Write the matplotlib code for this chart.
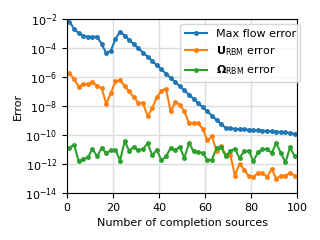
import numpy as np
import matplotlib
matplotlib.use("Agg")
import matplotlib.pyplot as plt

# completion sources (every other one)
n_sources = list(range(1, 100, 2))

# log10 of the errors
max_flow_log = [-2.19, -2.69, -2.98, -3.17, -3.22, -3.24, -3.22, -3.74, -4.36, -4.18,
                -3.38, -2.87, -3.15, -3.45, -3.74, -4.03, -4.32, -4.61, -4.90, -5.19,
                -5.48, -5.77, -6.06, -6.35, -6.64, -6.93, -7.22, -7.51, -7.80, -8.09,
                -8.38, -8.67, -8.96, -9.25, -9.52, -9.55, -9.58, -9.60, -9.62, -9.64,
                -9.66, -9.68, -9.70, -9.72, -9.74, -9.77, -9.80, -9.83, -9.86, -9.92]
u_rbm_log = [-5.74, -6.15, -6.66, -6.50, -6.50, -6.34, -6.61, -6.77, -7.85, -7.11,
             -6.31, -6.24, -6.63, -7.00, -7.40, -7.78, -7.80, -8.72, -8.17, -7.40,
             -6.97, -6.80, -8.37, -7.76, -7.90, -8.38, -9.18, -9.18, -9.18, -9.59,
             -10.37, -10.10, -11.13, -10.79, -11.36, -11.36, -12.80, -11.98, -12.39, -12.85,
             -12.90, -12.62, -12.62, -12.90, -12.34, -13.03, -12.80, -12.80, -12.62, -12.80]
omega_rbm_log = [-10.90, -10.67, -11.82, -11.66, -11.55, -10.97, -11.48, -10.90, -11.25, -11.06,
                 -11.02, -11.77, -10.44, -11.08, -10.83, -11.06, -10.97, -10.56, -11.41, -11.02,
                 -11.75, -11.48, -10.90, -11.02, -10.83, -11.59, -10.56, -11.13, -11.20, -11.25,
                 -11.75, -11.70, -10.90, -10.83, -11.48, -11.08, -10.97, -11.59, -11.13, -11.08,
                 -11.82, -11.20, -10.97, -10.97, -11.25, -10.56, -11.25, -11.89, -10.85, -11.48]

plt.rcParams['font.size'] = 8
fig = plt.figure(figsize=(3.2, 2.4), dpi=100)
ax = fig.add_axes([0.21, 0.196, 0.718, 0.725])

ax.semilogy(n_sources, 10.0 ** np.array(max_flow_log), '.-', color='C0', ms=5, lw=1.5,
            label='Max flow error')
ax.semilogy(n_sources, 10.0 ** np.array(u_rbm_log), '.-', color='C1', ms=5, lw=1.5,
            label=r'$\mathbf{U}_{\mathrm{RBM}}$ error')
ax.semilogy(n_sources, 10.0 ** np.array(omega_rbm_log), '.-', color='C2', ms=5, lw=1.5,
            label=r'$\boldsymbol{\Omega}_{\mathrm{RBM}}$ error')

ax.set_xlim(0, 100)
ax.set_ylim(1e-14, 1e-2)
ax.set_xticks([0, 20, 40, 60, 80, 100])
ax.set_yticks([10.0 ** k for k in range(-14, -1, 2)])
ax.yaxis.set_minor_locator(matplotlib.ticker.NullLocator())
ax.grid(True, color='#dddddd', lw=1)
ax.set_axisbelow(True)
ax.set_xlabel('Number of completion sources')
ax.set_ylabel('Error', labelpad=2)
ax.legend(loc='upper right', bbox_to_anchor=(1.015, 0.97), borderaxespad=0)

plt.savefig('out.png', dpi=100)
plt.close('all')
